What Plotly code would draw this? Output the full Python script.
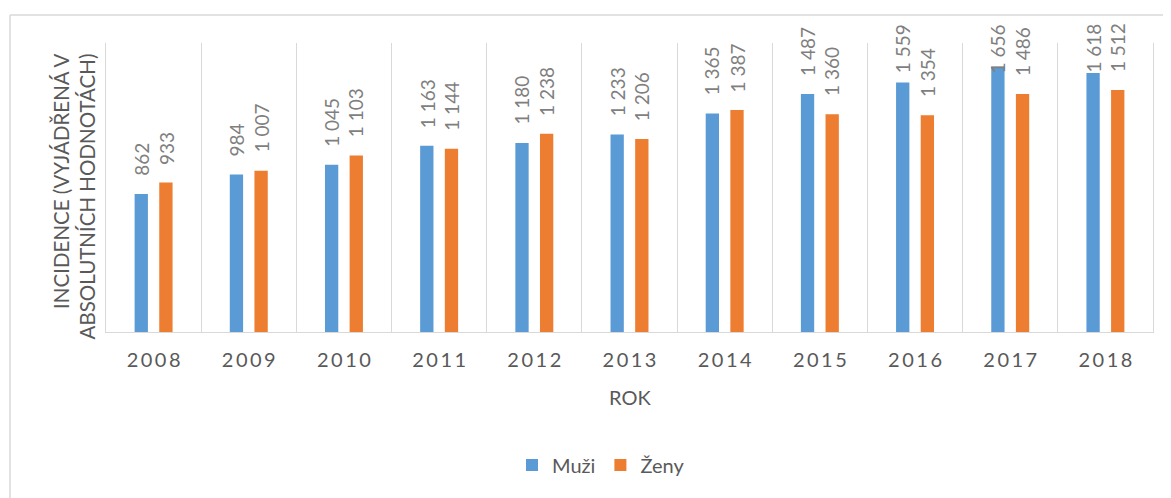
import plotly.graph_objects as go

years = ["2008", "2009", "2010", "2011", "2012", "2013", "2014", "2015", "2016", "2017", "2018"]
muzi = [862, 984, 1045, 1163, 1180, 1233, 1365, 1487, 1559, 1656, 1618]
zeny = [933, 1007, 1103, 1144, 1238, 1206, 1387, 1360, 1354, 1486, 1512]
series_names = ["Muži", "Ženy"]
tick_labels = ["\u2009".join(y) for y in years]
y_title = "INCIDENCE (VYJÁDŘENÁ V<br>ABSOLUTNÍCH HODNOTÁCH)"
x_title = "ROK"

BLUE = "#5B9BD5"
ORANGE = "#ED7D31"
TEXT = "#595959"
LABEL = "#7F7F7F"
GRID = "#D9D9D9"
FONT = "Lato"

OFF = 8  # page body margin
W, H = 1171, 498
PL, PT, PR, PB = 106 - OFF, 43 - OFF, 1153 - OFF, 332 - OFF  # plot area in figure px
L, T, R, B = PL, PT, W - PR, H - PB
plot_h = PB - PT
plot_w = PR - PL
YMAX = 1805
ppu = plot_h / YMAX


def px_x(ref_x):
    return (ref_x - OFF - PL) / plot_w


def px_y(ref_y):
    return (PB - (ref_y - OFF)) / plot_h


def fmt(v):
    s = f"{v:,}"
    return s.replace(",", " ")


fig = go.Figure()
fig.add_trace(go.Bar(x=years, y=muzi, name=series_names[0], marker=dict(color=BLUE, line=dict(width=0))))
fig.add_trace(go.Bar(x=years, y=zeny, name=series_names[1], marker=dict(color=ORANGE, line=dict(width=0))))

annotations = []
label_top_ref = 23  # labels may not rise above this (chart area limit)
for vals, shift in ((muzi, -12.3), (zeny, 12.3)):
    for i, v in enumerate(vals):
        txt = fmt(v)
        est_len = 10.7 * sum(c.isdigit() for c in txt) + (4 if " " in txt else 0)
        top_px = v * ppu + 17 + est_len
        common = dict(x=i, xref="x", xshift=shift, xanchor="center", text=txt, textangle=-90,
                      showarrow=False, font=dict(family=FONT, size=19, color=LABEL), borderpad=0)
        if top_px > plot_h + (PT + OFF - label_top_ref):
            annotations.append(dict(y=px_y(label_top_ref), yref="paper", yanchor="top", **common))
        else:
            annotations.append(dict(y=v, yref="y", yshift=17, yanchor="bottom", **common))

# axis titles
annotations.append(dict(x=px_x(74), xref="paper", y=px_y(196.5), yref="paper", text=y_title, textangle=-90,
                        showarrow=False, xanchor="center", yanchor="middle", align="right",
                        font=dict(family=FONT, size=20.5, color=TEXT)))
annotations.append(dict(x=0.5, xref="paper", y=px_y(397), yref="paper", text=x_title,
                        showarrow=False, xanchor="center", yanchor="middle",
                        font=dict(family=FONT, size=20, color=TEXT)))

shapes = [
    dict(type="line", xref="paper", yref="paper", x0=px_x(10), x1=px_x(W + 20),
         y0=px_y(15), y1=px_y(15), line=dict(color=GRID, width=1.5)),
    dict(type="line", xref="paper", yref="paper", x0=px_x(10), x1=px_x(10),
         y0=px_y(15), y1=px_y(H + 20), line=dict(color=GRID, width=1.5)),
]

fig.update_layout(
    width=W, height=H, autosize=False,
    margin=dict(l=L, r=R, t=T, b=B),
    paper_bgcolor="white", plot_bgcolor="white",
    barmode="group", bargap=0.482, bargroupgap=0.46,
    font=dict(family=FONT, color=TEXT),
    showlegend=True,
    legend=dict(orientation="h", x=px_x(601), xanchor="center", y=px_y(465),
                yanchor="middle", font=dict(family=FONT, size=20, color=TEXT), bgcolor="rgba(0,0,0,0)"),
    annotations=annotations,
    shapes=shapes,
    xaxis=dict(type="category", range=[-0.5, len(years) - 0.5], autorange=False,
               tickson="boundaries", showgrid=True, gridcolor=GRID, gridwidth=1,
               showline=True, linecolor=GRID, linewidth=1, ticks="", tickmode="array",
               tickvals=years, ticktext=tick_labels, ticklabelstandoff=10, tickangle=0,
               tickfont=dict(family=FONT, size=20, color=TEXT), zeroline=False),
    yaxis=dict(range=[0, YMAX], autorange=False, showgrid=False, zeroline=False, showticklabels=False,
               showline=True, mirror=True, linecolor=GRID, linewidth=1, ticks=""),
)

fig.write_html("out.html")
